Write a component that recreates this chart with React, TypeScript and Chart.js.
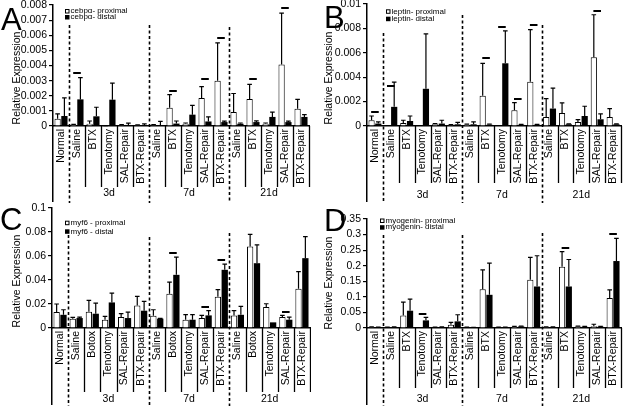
import React, { useEffect, useRef } from 'react';
import { Chart, registerables } from 'chart.js';
Chart.register(...registerables);

// ---------- categories ----------
const catsBTX = ['Normal', 'Saline', 'BTX', 'Tenotomy', 'SAL-Repair', 'BTX-Repair', 'Saline', 'BTX', 'Tenotomy', 'SAL-Repair', 'BTX-Repair', 'Saline', 'BTX', 'Tenotomy', 'SAL-Repair', 'BTX-Repair'];
const catsBotox = ['Normal', 'Saline', 'Botox', 'Tenotomy', 'SAL-Repair', 'BTX-Repair', 'Saline', 'Botox', 'Tenotomy', 'SAL-Repair', 'BTX-Repair', 'Saline', 'Botox', 'Tenotomy', 'SAL-Repair', 'BTX-Repair'];
const groupLabels = ['3d', '7d', '21d'];
const groupStarts = [1, 6, 11];

// ---------- Panel A: cebpα ----------
const aProx = [0.00048, 0.00008, 0.00015, 0.00002, 0.00007, 0.00006, 0.00007, 0.00121, 0.00015, 0.00185, 0.0030, 0.00093, 0.00178, 0.00015, 0.00406, 0.00114];
const aProxErr = [0.00032, 0.00003, 0.00018, 0.00001, 0.00002, 0.00002, 0.00002, 0.00086, 0.00005, 0.00075, 0.0025, 0.00122, 0.00097, 0.00005, 0.0034, 0.00062];
const aDist = [0.00066, 0.00176, 0.00064, 0.00174, 0.00007, 0.00006, 0.00004, 0.00016, 0.00075, 0.0003, 0.00026, 0.00015, 0.00026, 0.0006, 0.00026, 0.0006];
const aDistErr = [0.0012, 0.00144, 0.0006, 0.0011, 0.00012, 0.00008, 0.00026, 0.00017, 0.00061, 0.0003, 0.00006, 0.00005, 0.00008, 0.00032, 0.00006, 0.00015];
const aSig = [null, 0.0035, null, null, null, null, null, 0.0023, null, 0.0031, 0.0058, null, 0.0031, null, 0.0078, null];

// ---------- Panel B: leptin ----------
const bProx = [0.00047, 0.00003, 0.00025, 0.00003, 0.00014, 0.00008, 0.0001, 0.00247, 0.00003, 0.0013, 0.00363, 0.00074, 0.00107, 0.00033, 0.00563, 0.00074];
const bProxErr = [0.00035, 0, 0.00022, 0, 0.00005, 0.00003, 0.00005, 0.00267, 0, 0.00062, 0.00427, 0.00151, 0.00083, 0.00019, 0.00349, 0.00069];
const bDist = [0.0002, 0.00157, 0.00041, 0.00305, 0.0002, 0.00014, 0.00014, 0.0001, 0.00514, 0.0001, 0.0001, 0.00143, 0.00014, 0.00082, 0.00055, 0.00014];
const bDistErr = [0.00013, 0.00203, 0.00041, 0.0045, 0.00027, 0.00016, 0.00019, 0.00005, 0.00266, 0.00003, 0.00003, 0.00167, 0.00003, 0.0008, 0.00045, 0.00003];
const bSig = [0.00115, 0.00327, null, null, null, null, null, 0.00555, 0.0081, 0.00225, 0.0083, null, null, null, 0.00945, null];

// ---------- Panel C: myf6 ----------
const cProx = [0.0133, 0.0078, 0.0136, 0.0069, 0.0091, 0.0188, 0.0102, 0.0285, 0.0069, 0.0083, 0.026, 0.0105, 0.0679, 0.0175, 0.0091, 0.0327];
const cProxErr = [0.0067, 0.001, 0.0094, 0.0028, 0.0028, 0.0075, 0.005, 0.0097, 0.0042, 0.0022, 0.0059, 0.0039, 0.0102, 0.0027, 0.0014, 0.0143];
const cDist = [0.011, 0.0083, 0.0119, 0.0213, 0.0083, 0.0144, 0.0078, 0.0443, 0.0069, 0.0105, 0.0485, 0.011, 0.054, 0.0047, 0.0069, 0.0582];
const cDistErr = [0.0042, 0.0007, 0.0089, 0.0077, 0.005, 0.0078, 0.0003, 0.0147, 0.0042, 0.0039, 0.0047, 0.007, 0.0153, 0, 0.0022, 0.018];
const cSig = [null, null, null, null, null, null, null, 0.0629, null, 0.0175, 0.0568, null, null, null, 0.0136, null];

// ---------- Panel D: myogenin ----------
const dProx = [0.003, 0.002, 0.0405, 0.001, 0.002, 0.0107, 0.002, 0.1248, 0.002, 0.004, 0.1546, 0.003, 0.197, 0.005, 0.006, 0.096];
const dProxErr = [0.001, 0.001, 0.0425, 0, 0.001, 0.0073, 0.001, 0.0618, 0.001, 0.001, 0.0724, 0.001, 0.048, 0.001, 0.006, 0.0266];
const dDist = [0.002, 0.003, 0.0555, 0.0245, 0.003, 0.0213, 0.001, 0.1066, 0.002, 0.005, 0.1333, 0.003, 0.1333, 0.004, 0.004, 0.215];
const dDistErr = [0.001, 0.001, 0.0375, 0.0095, 0.001, 0.0213, 0.001, 0.1014, 0.001, 0.001, 0.0987, 0.001, 0.0867, 0.001, 0.001, 0.073];
const dSig = [null, null, null, 0.0448, null, null, null, null, null, null, null, null, 0.258, null, null, 0.301];

const FONT = '"Liberation Sans", Arial, sans-serif';

const panels: any[] = [
  {
    left: 0, top: 0, width: 311, height: 203,
    area: { left: 53, right: 309, top: 5, bottom: 126 },
    labels: catsBTX, prox: aProx, proxErr: aProxErr, dist: aDist, distErr: aDistErr, sig: aSig,
    yMax: 0.008, yStep: 0.001,
    legend: ['cebpα- proximal', 'cebpα- distal'], legendX: 65, legendY: [11, 17],
    letter: 'A', letterX: 1, letterY: 30,
    titleX: 17, titleY: 78, tickLen: 61, dashStart: [25, 25, 27], groupY: 193,
  },
  {
    left: 311, top: 0, width: 312, height: 203,
    area: { left: 56, right: 310, top: 4, bottom: 126 },
    labels: catsBTX, prox: bProx, proxErr: bProxErr, dist: bDist, distErr: bDistErr, sig: bSig,
    yMax: 0.01, yStep: 0.002,
    legend: ['leptin- proximal', 'leptin- distal'], legendX: 75, legendY: [11.3, 18.7],
    letter: 'B', letterX: 13, letterY: 28,
    titleX: 18, titleY: 78, tickLen: 57, dashStart: [33, 15, 25], groupY: 195,
  },
  {
    left: 0, top: 203, width: 311, height: 203,
    area: { left: 52, right: 310, top: 5, bottom: 125 },
    labels: catsBotox, prox: cProx, proxErr: cProxErr, dist: cDist, distErr: cDistErr, sig: cSig,
    yMax: 0.1, yStep: 0.02,
    legend: ['myf6 - proximal', 'myf6 - distal'], legendX: 65, legendY: [19.7, 28.3],
    letter: 'C', letterX: 0, letterY: 27,
    titleX: 17, titleY: 78, tickLen: 64, dashStart: [32, 34, 30], groupY: 196,
  },
  {
    left: 311, top: 203, width: 312, height: 203,
    area: { left: 56, right: 310, top: 16, bottom: 125 },
    labels: catsBTX, prox: dProx, proxErr: dProxErr, dist: dDist, distErr: dDistErr, sig: dSig,
    yMax: 0.35, yStep: 0.05,
    legend: ['myogenin- proximal', 'myogenin- distal'], legendX: 69, legendY: [17.5, 24.2],
    letter: 'D', letterX: 13, letterY: 28,
    titleX: 18, titleY: 80, tickLen: 60, dashStart: [32, 32, 30], groupY: 196,
  },
];

function makeDecor(cfg: any) {
  return {
    id: 'decor',
    afterDatasetsDraw(chart: any) {
      const ctx = chart.ctx;
      const ys = chart.scales.y;
      const xs = chart.scales.x;
      ctx.save();
      ctx.strokeStyle = '#000';
      ctx.lineWidth = 1.2;
      const errs = [cfg.proxErr, cfg.distErr];
      chart.data.datasets.forEach((ds: any, di: number) => {
        const meta = chart.getDatasetMeta(di);
        meta.data.forEach((bar: any, i: number) => {
          const e = errs[di][i];
          if (!e) return;
          const yTop = ys.getPixelForValue(ds.data[i] + e);
          ctx.beginPath();
          ctx.moveTo(bar.x, bar.y);
          ctx.lineTo(bar.x, yTop);
          ctx.moveTo(bar.x - 2.3, yTop);
          ctx.lineTo(bar.x + 2.3, yTop);
          ctx.stroke();
        });
      });
      // significance dashes
      ctx.lineWidth = 2;
      cfg.sig.forEach((v: any, i: number) => {
        if (v == null) return;
        const x = xs.getPixelForValue(i);
        const y = Math.round(ys.getPixelForValue(v));
        ctx.beginPath();
        ctx.moveTo(x - 3.8, y);
        ctx.lineTo(x + 3.8, y);
        ctx.stroke();
      });
      ctx.restore();
    },
    afterDraw(chart: any) {
      const ctx = chart.ctx;
      const xs = chart.scales.x;
      const ca = chart.chartArea;
      const H = cfg.height;
      const n = cfg.labels.length;
      const bound = (i: number) => {
        if (i <= 0) return ca.left;
        if (i >= n) return ca.right;
        return (xs.getPixelForValue(i - 1) + xs.getPixelForValue(i)) / 2;
      };
      ctx.save();
      ctx.strokeStyle = '#000';
      ctx.fillStyle = '#000';
      // y axis extension
      const ax = Math.round(ca.left - 0.75) + 0.75;
      ctx.lineWidth = 1.5;
      ctx.beginPath();
      ctx.moveTo(ax, ca.bottom);
      ctx.lineTo(ax, H - 1);
      ctx.stroke();
      // category separators
      ctx.lineWidth = 1.3;
      for (let i = 1; i <= n; i++) {
        if (groupStarts.includes(i)) continue;
        const x = Math.round(bound(i)) + 0.5;
        ctx.beginPath();
        ctx.moveTo(x, ca.bottom);
        ctx.lineTo(x, ca.bottom + cfg.tickLen);
        ctx.stroke();
      }
      // dashed group separators
      ctx.lineWidth = 1.6;
      ctx.setLineDash([3, 2.5]);
      groupStarts.forEach((g: number, k: number) => {
        const x = Math.round(bound(g)) + 0.5;
        ctx.beginPath();
        ctx.moveTo(x, cfg.dashStart[k]);
        ctx.lineTo(x, H);
        ctx.stroke();
      });
      ctx.setLineDash([]);
      // group labels
      ctx.font = '10.5px ' + FONT;
      ctx.textAlign = 'center';
      ctx.textBaseline = 'middle';
      groupStarts.forEach((g: number, k: number) => {
        const end = k + 1 < groupStarts.length ? groupStarts[k + 1] : n;
        const cx = (bound(g) + bound(end)) / 2;
        ctx.fillText(groupLabels[k], cx, cfg.groupY);
      });
      // y title
      ctx.save();
      ctx.translate(cfg.titleX, cfg.titleY);
      ctx.rotate(-Math.PI / 2);
      ctx.font = '10.5px ' + FONT;
      ctx.fillText('Relative Expression', 0, 0);
      ctx.restore();
      // panel letter
      ctx.font = '31px ' + FONT;
      ctx.textAlign = 'left';
      ctx.textBaseline = 'alphabetic';
      ctx.fillText(cfg.letter, cfg.letterX, cfg.letterY);
      // legend
      ctx.font = '8px ' + FONT;
      ctx.textBaseline = 'middle';
      ctx.lineWidth = 1;
      cfg.legend.forEach((lab: string, k: number) => {
        const y = cfg.legendY[k];
        const bx = cfg.legendX;
        if (k === 0) {
          ctx.fillStyle = '#fff';
          ctx.fillRect(bx, y - 2, 4, 4);
          ctx.strokeRect(bx + 0.5, y - 1.5, 3.5, 3.5);
        } else {
          ctx.fillStyle = '#000';
          ctx.fillRect(bx, y - 2, 4.5, 4.5);
        }
        ctx.fillStyle = '#000';
        ctx.fillText(lab, bx + 5.5, y);
      });
      ctx.restore();
    },
  };
}

function Panel({ cfg }: { cfg: any }) {
  const ref = useRef<HTMLCanvasElement>(null);
  useEffect(() => {
    const canvas = ref.current;
    if (!canvas) return;
    const fmt = (v: any) => String(parseFloat(Number(v).toFixed(5)));
    const chart = new Chart(canvas, {
      type: 'bar',
      data: {
        labels: cfg.labels,
        datasets: [
          { label: cfg.legend[0], data: cfg.prox, backgroundColor: '#fff', borderColor: '#000', borderWidth: 1, categoryPercentage: 0.85, barPercentage: 0.92 },
          { label: cfg.legend[1], data: cfg.dist, backgroundColor: '#000', borderColor: '#000', borderWidth: 0, categoryPercentage: 0.85, barPercentage: 0.92 },
        ],
      },
      options: {
        responsive: false,
        animation: false,
        devicePixelRatio: 1,
        events: [],
        layout: { padding: { left: 0, top: cfg.area.top, right: cfg.width - cfg.area.right, bottom: 0 } },
        plugins: { legend: { display: false }, tooltip: { enabled: false } },
        scales: {
          x: {
            ticks: { autoSkip: false, maxRotation: 90, minRotation: 90, padding: 3, color: '#000', font: { family: FONT, size: 10.5 } },
            grid: { display: false, drawTicks: false },
            border: { display: true, color: '#000', width: 1.5 },
            afterFit: (s: any) => { s.height = cfg.height - cfg.area.bottom; s.paddingLeft = 0; s.paddingRight = 0; },
          },
          y: {
            min: 0, max: cfg.yMax,
            ticks: { stepSize: cfg.yStep, autoSkip: false, maxTicksLimit: 50, padding: 2, color: '#000', font: { family: FONT, size: 10.5 }, callback: fmt },
            grid: { display: true, drawOnChartArea: false, drawTicks: true, tickLength: 4, color: '#000', lineWidth: 1.2 },
            border: { display: true, color: '#000', width: 1.5 },
            afterFit: (s: any) => { s.width = cfg.area.left; s.paddingTop = 0; s.paddingBottom = 0; },
          },
        },
      } as any,
      plugins: [makeDecor(cfg)],
    });
    return () => chart.destroy();
  }, [cfg]);
  return (
    <canvas
      ref={ref}
      width={cfg.width}
      height={cfg.height}
      style={{ position: 'absolute', left: cfg.left, top: cfg.top, width: cfg.width, height: cfg.height }}
    />
  );
}

export default function App() {
  return (
    <div style={{ position: 'absolute', left: 0, top: 0, width: 623, height: 406, background: '#fff', overflow: 'hidden' }}>
      {panels.map((p, i) => <Panel key={i} cfg={p} />)}
    </div>
  );
}
